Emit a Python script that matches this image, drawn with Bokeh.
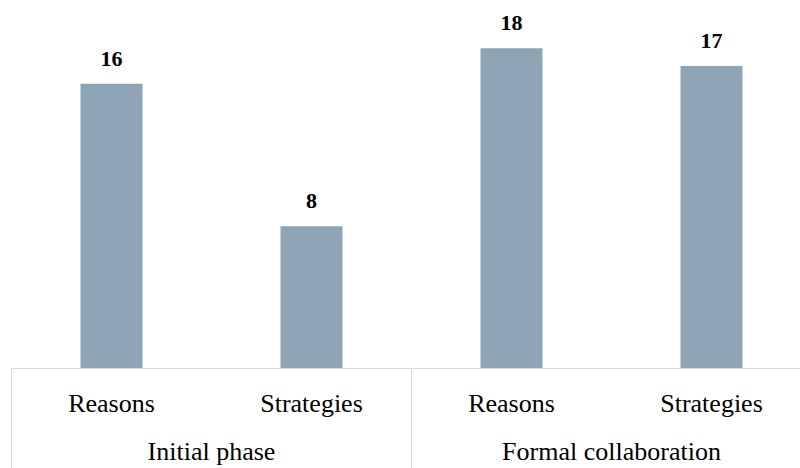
from bokeh.plotting import figure
from bokeh.models import LinearAxis, FixedTicker, Range1d, ColumnDataSource, LabelSet
from bokeh.embed import file_html
from bokeh.resources import INLINE

# Data
groups = ["Initial phase", "Formal collaboration"]
subcats = ["Reasons", "Strategies", "Reasons", "Strategies"]
counts = [16, 8, 18, 17]

BAR = "#8DA4B4"
GRID = "#D9D9D9"
FONT = "Liberation Serif"

xs = [i + 0.5 for i in range(len(counts))]
group_centers = [2 * g + 1 for g in range(len(groups))]
group_edges = [2 * g for g in range(len(groups) + 1)]

src = ColumnDataSource(dict(x=xs, top=counts, label=[str(c) for c in counts]))

p = figure(width=800, height=468, output_backend="svg", toolbar_location=None,
           x_range=Range1d(-0.055, 3.945), y_range=Range1d(0, 20.68),
           x_axis_location=None, y_axis_location=None,
           min_border_left=0, min_border_right=0, min_border_top=0,
           min_border_bottom=100)
p.outline_line_color = None
p.xgrid.visible = False
p.ygrid.visible = False
p.background_fill_color = "white"
p.border_fill_color = "white"

p.vbar(x="x", top="top", width=0.31, bottom=0, source=src,
       fill_color=BAR, line_color=None)

labels = LabelSet(x="x", y="top", text="label", source=src,
                  text_align="center", text_baseline="alphabetic", y_offset=18,
                  text_font=FONT, text_font_style="bold", text_font_size="22px",
                  text_color="#000000")
p.add_layout(labels)

SEP = 100  # length of the group separators below the baseline

# inner axis: sub-category labels, with group separators drawn as long minor ticks
sub_axis = LinearAxis(ticker=FixedTicker(ticks=xs, minor_ticks=group_edges),
                      bounds=(0, 4))
sub_axis.major_label_overrides = {x: s for x, s in zip(xs, subcats)}
sub_axis.axis_line_color = GRID
sub_axis.axis_line_width = 1
sub_axis.major_tick_out = 0
sub_axis.major_tick_in = 0
sub_axis.minor_tick_in = 0
sub_axis.minor_tick_out = SEP
sub_axis.minor_tick_line_color = GRID
sub_axis.minor_tick_line_width = 1
sub_axis.major_label_standoff = 20 - SEP
sub_axis.major_label_text_font = FONT
sub_axis.major_label_text_font_size = "26px"
sub_axis.major_label_text_color = "#000000"
p.add_layout(sub_axis, "below")

# outer axis: group labels
grp_axis = LinearAxis(ticker=FixedTicker(ticks=group_centers, minor_ticks=[]))
grp_axis.major_label_overrides = {x: s for x, s in zip(group_centers, groups)}
grp_axis.axis_line_color = None
grp_axis.major_tick_line_color = None
grp_axis.minor_tick_line_color = None
grp_axis.major_tick_out = 0
grp_axis.major_tick_in = 0
grp_axis.major_label_standoff = 16
grp_axis.major_label_text_font = FONT
grp_axis.major_label_text_font_size = "26px"
grp_axis.major_label_text_color = "#000000"
p.add_layout(grp_axis, "below")

open("out.html", "w").write(file_html(p, INLINE))
